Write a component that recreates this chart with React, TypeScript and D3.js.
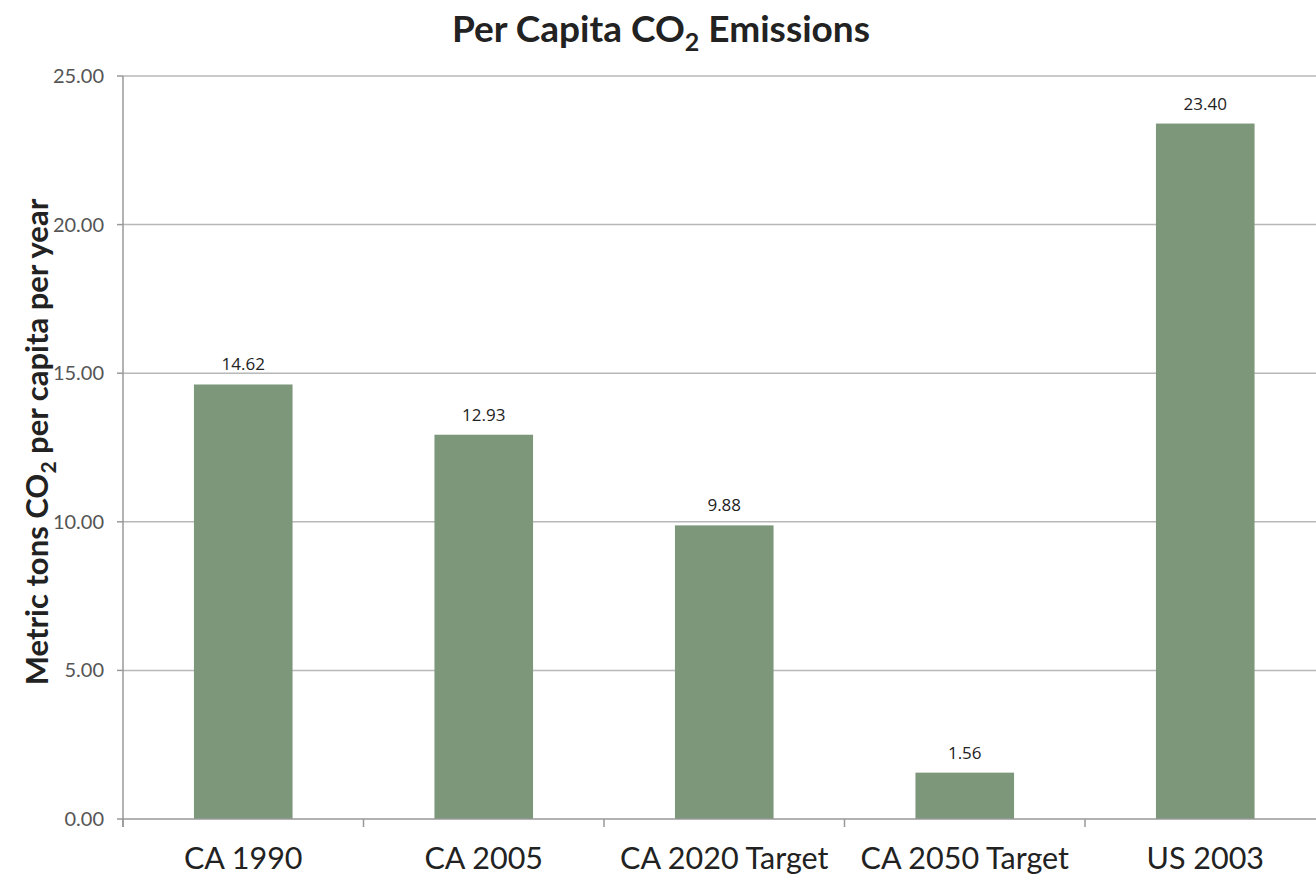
import { useMemo } from "react";
import * as d3 from "d3";

// ── Data ──────────────────────────────────────────────────────────────────────

const categories = ["CA 1990", "CA 2005", "CA 2020 Target", "CA 2050 Target", "US 2003"];
const values = [14.62, 12.93, 9.88, 1.56, 23.4];
const yTicks = [0, 5, 10, 15, 20, 25];

// ── Layout ────────────────────────────────────────────────────────────────────

const W = 1316;
const H = 878;
const MARGIN = { top: 76, left: 123, bottom: 59 };
const BAND = 240.5;
const BAR_COLOUR = "#7d977b";
const FONT = "Lato, 'Open Sans', sans-serif";

export default function App() {
  const plotH = H - MARGIN.top - MARGIN.bottom;

  const x = useMemo(
    () =>
      d3
        .scaleBand<string>()
        .domain(categories)
        .range([MARGIN.left, MARGIN.left + BAND * categories.length])
        .paddingInner(0.59)
        .paddingOuter(0.295),
    []
  );
  const y = useMemo(
    () => d3.scaleLinear().domain([0, 25]).range([MARGIN.top + plotH, MARGIN.top]),
    [plotH]
  );

  const y0 = y(0);

  return (
    <svg
      width={W}
      height={H}
      style={{ position: "fixed", left: 0, top: 0, background: "#fff" }}
    >
      {/* Title */}
      <text
        x={661}
        y={42}
        textAnchor="middle"
        fontFamily={FONT}
        fontWeight={700}
        fontSize={37}
        fill="#222"
      >
        Per Capita CO
        <tspan fontSize={25} dy={9}>2</tspan>
        <tspan dy={-9}> Emissions</tspan>
      </text>

      {/* Gridlines + y ticks */}
      {yTicks.map((t) => (
        <g key={t}>
          {t > 0 && (
            <line x1={MARGIN.left} x2={W} y1={y(t)} y2={y(t)} stroke="#b8b8b8" strokeWidth={1.5} />
          )}
          <line x1={117} x2={MARGIN.left} y1={y(t)} y2={y(t)} stroke="#999" strokeWidth={1.5} />
          <text
            x={104}
            y={y(t) + 7}
            textAnchor="end"
            fontFamily={FONT}
            fontSize={20}
            fill="#555"
          >
            {t.toFixed(2)}
          </text>
        </g>
      ))}

      {/* Bars */}
      {categories.map((c, i) => (
        <g key={c}>
          <rect
            x={x(c)}
            y={y(values[i])}
            width={x.bandwidth()}
            height={y0 - y(values[i])}
            fill={BAR_COLOUR}
          />
          <text
            x={(x(c) ?? 0) + x.bandwidth() / 2}
            y={y(values[i]) - 14}
            textAnchor="middle"
            fontFamily="'Open Sans', sans-serif"
            fontSize={17}
            fill="#222"
          >
            {values[i].toFixed(2)}
          </text>
        </g>
      ))}

      {/* Axes */}
      <line x1={MARGIN.left} x2={MARGIN.left} y1={MARGIN.top} y2={y0 + 8} stroke="#999" strokeWidth={1.5} />
      <line x1={MARGIN.left} x2={W} y1={y0} y2={y0} stroke="#999" strokeWidth={1.5} />
      {categories.map((c, i) => (
        <line
          key={c}
          x1={MARGIN.left + BAND * i}
          x2={MARGIN.left + BAND * i}
          y1={y0}
          y2={y0 + 8}
          stroke="#999"
          strokeWidth={1.5}
        />
      ))}

      {/* Category labels */}
      {categories.map((c) => (
        <text
          key={c}
          x={(x(c) ?? 0) + x.bandwidth() / 2}
          y={869}
          textAnchor="middle"
          fontFamily={FONT}
          fontSize={30.5}
          fill="#222"
        >
          {c}
        </text>
      ))}

      {/* Y axis title */}
      <text
        transform={`translate(48,${442}) rotate(-90)`}
        textAnchor="middle"
        fontFamily={FONT}
        fontWeight={700}
        fontSize={31}
        fill="#222"
      >
        Metric tons CO
        <tspan fontSize={21} dy={8}>2</tspan>
        <tspan dy={-8}> per capita per year</tspan>
      </text>
    </svg>
  );
}
